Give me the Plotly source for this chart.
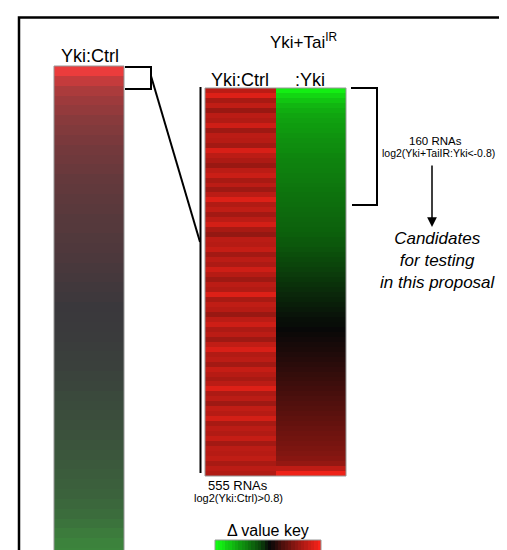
import plotly.graph_objects as go

W, H = 507, 550

# ---- data (top to bottom) ----
full_yki_ctrl = [1.0, 0.78, 0.64, 0.56, 0.5, 0.44, 0.4, 0.36, 0.32, 0.3,
                 0.27, 0.24, 0.22, 0.2, 0.18, 0.16, 0.15, 0.13, 0.12, 0.1,
                 0.08, 0.06, 0.04, 0.02, 0.0, -0.01, -0.02, -0.04, -0.06, -0.08,
                 -0.1, -0.13, -0.16, -0.2, -0.23, -0.25, -0.27, -0.3, -0.33, -0.36,
                 -0.39, -0.43, -0.46, -0.5, -0.56, -0.62, -0.7, -0.8, -0.88, -0.92]

sel_yki_ctrl = [0.74, 0.88, 0.66, 0.76, 0.60, 0.74, 0.70, 0.82, 0.62, 0.74,
                0.72, 0.64, 0.86, 0.74, 0.68, 0.60, 0.74, 0.80, 0.66, 0.74,
                0.62, 0.74, 0.88, 0.70, 0.76, 0.64, 0.74, 0.84, 0.66, 0.58,
                0.74, 0.72, 0.78, 0.64, 0.74, 0.68, 0.82, 0.72, 0.62, 0.74,
                0.70, 0.88, 0.66, 0.76, 0.72, 0.60, 0.74, 0.82, 0.68, 0.74,
                0.62, 0.76, 0.86, 0.70, 0.74, 0.64, 0.78, 0.72, 0.66, 0.74,
                0.88, 0.68, 0.74, 0.62, 0.76, 0.72, 0.84, 0.66, 0.74, 0.70,
                0.78, 0.64, 0.74, 0.72, 0.76, 0.66, 0.74, 0.70]

sel_tai_yki = [-0.95, -0.85, -0.78, -0.72, -0.68, -0.65, -0.63, -0.61, -0.6, -0.58,
               -0.56, -0.55, -0.54, -0.52, -0.51, -0.5, -0.49, -0.48, -0.47, -0.46,
               -0.45, -0.44, -0.43, -0.42, -0.41, -0.4, -0.39, -0.38, -0.37, -0.36,
               -0.34, -0.33, -0.31, -0.29, -0.27, -0.25, -0.23, -0.21, -0.19, -0.17,
               -0.15, -0.13, -0.11, -0.09, -0.07, -0.05, -0.03, -0.02, 0.0, 0.02,
               0.04, 0.06, 0.08, 0.1, 0.12, 0.14, 0.16, 0.18, 0.2, 0.22,
               0.24, 0.26, 0.28, 0.3, 0.32, 0.34, 0.36, 0.38, 0.4, 0.42,
               0.44, 0.46, 0.48, 0.5, 0.53, 0.58, 0.75, 0.95]

key_values = [-1, -0.95, -0.9, -0.82, -0.78, -0.72, -0.66, -0.6, -0.55, -0.5,
              -0.44, -0.38, -0.32, -0.26, -0.18, -0.08, 0.0, 0.06, 0.14, 0.22,
              0.3, 0.36, 0.42, 0.5, 0.56, 0.62, 0.68, 0.74, 0.8, 0.86, 0.92, 1.0]

col_labels = ["Yki:Ctrl", ":Yki"]


def px(x):
    return x / W


def py(y):
    return 1 - y / H


muted_scale = [[0, "rgb(60,140,60)"], [0.5, "rgb(58,56,60)"], [1, "rgb(235,60,60)"]]
rg_scale = [[0, "rgb(20,250,20)"], [0.5, "rgb(8,8,8)"], [1, "rgb(250,35,25)"]]

fig = go.Figure()

fig.add_trace(go.Heatmap(z=[[v] for v in full_yki_ctrl], colorscale=muted_scale,
                         zmin=-1, zmax=1, showscale=False, xaxis="x", yaxis="y",
                         hoverinfo="skip"))
fig.add_trace(go.Heatmap(z=[[a, b] for a, b in zip(sel_yki_ctrl, sel_tai_yki)],
                         colorscale=rg_scale, zmin=-1, zmax=1, showscale=False,
                         xaxis="x2", yaxis="y2", hoverinfo="skip"))
fig.add_trace(go.Heatmap(z=[key_values], colorscale=rg_scale, zmin=-1, zmax=1,
                         showscale=False, xaxis="x3", yaxis="y3", hoverinfo="skip"))

hidden = dict(visible=False, showgrid=False, zeroline=False, fixedrange=True)
fig.update_layout(
    width=W, height=H,
    margin=dict(l=0, r=0, t=0, b=0),
    paper_bgcolor="white", plot_bgcolor="white",
    xaxis=dict(domain=[px(46), px(116)], anchor="y", **hidden),
    yaxis=dict(domain=[0, py(58)], anchor="x", autorange="reversed", **hidden),
    xaxis2=dict(domain=[px(197), px(338)], anchor="y2", **hidden),
    yaxis2=dict(domain=[py(468), py(80)], anchor="x2", autorange="reversed", **hidden),
    xaxis3=dict(domain=[px(207), px(313)], anchor="y3", **hidden),
    yaxis3=dict(domain=[0, py(532)], anchor="x3", **hidden),
    font=dict(family="Liberation Sans, Arial, sans-serif", color="black"),
    showlegend=False,
)

shapes = []
# outer border
shapes.append(dict(type="rect", xref="paper", yref="paper", x0=px(11), x1=1.02,
                   y0=-0.02, y1=py(9.5), line=dict(color="black", width=2.5)))
# gray outlines
gray = dict(color="rgb(150,150,150)", width=1)
shapes.append(dict(type="rect", xref="paper", yref="paper", x0=px(46), x1=px(116),
                   y0=-0.02, y1=py(58), line=gray))
shapes.append(dict(type="rect", xref="paper", yref="paper", x0=px(197), x1=px(338),
                   y0=py(468), y1=py(80), line=gray))
shapes.append(dict(type="rect", xref="paper", yref="paper", x0=px(207), x1=px(313),
                   y0=-0.02, y1=py(532), line=gray))
blk = dict(color="black", width=2)
# left bracket
shapes.append(dict(type="path", xref="paper", yref="paper",
                   path=f"M {px(117)},{py(59)} L {px(143)},{py(59)} L {px(143)},{py(81)} L {px(117)},{py(81)}",
                   line=blk))
# diagonal
shapes.append(dict(type="line", xref="paper", yref="paper", x0=px(143), y0=py(68),
                   x1=px(192), y1=py(234), line=blk))
# vertical line beside middle heatmap
shapes.append(dict(type="line", xref="paper", yref="paper", x0=px(192.5), y0=py(79),
                   x1=px(192.5), y1=py(465), line=blk))
# right bracket
shapes.append(dict(type="path", xref="paper", yref="paper",
                   path=f"M {px(343)},{py(80)} L {px(369)},{py(80)} L {px(369)},{py(197)} L {px(344)},{py(197)}",
                   line=blk))
fig.update_layout(shapes=shapes)


def txt(x, y, s, size, italic=False):
    return dict(x=px(x), y=py(y), xref="paper", yref="paper", text=s, showarrow=False,
                xanchor="center", yanchor="middle",
                font=dict(size=size, color="black", style="italic" if italic else "normal"))


ann = [
    txt(82, 48, "Yki:Ctrl", 18),
    txt(296, 33, "Yki+Tai<sup>IR</sup>", 17),
    txt(232, 72, col_labels[0], 18),
    txt(302, 72, col_labels[1], 18),
    txt(427, 133, "160 RNAs", 11.5),
    txt(430, 145, "log2(Yki+TaiIR:Yki<-0.8)", 10.5),
    txt(430, 252, "Candidates<br>for testing<br>in this proposal", 17, True),
    txt(230, 477, "555 RNAs", 13),
    txt(230, 490, "log2(Yki:Ctrl)>0.8)", 11),
    txt(260, 522, "\u0394 value key", 16),
]
ann.append(dict(x=px(424), y=py(219), ax=0, ay=-63, xref="paper", yref="paper",
                axref="pixel", ayref="pixel", text="", showarrow=True, arrowhead=2,
                arrowsize=1.3, arrowwidth=1.5, arrowcolor="black"))
fig.update_layout(annotations=ann)

fig.write_html("out.html")
